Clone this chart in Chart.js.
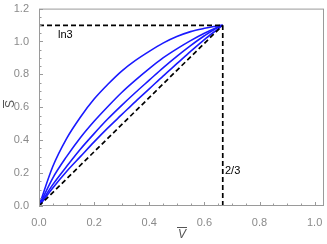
<!DOCTYPE html>
<html>
<head>
<meta charset="utf-8">
<script src="https://cdn.jsdelivr.net/npm/chart.js@4"></script>
<style>
  html, body { margin: 0; padding: 0; background: #fff; }
  #wrap { width: 327px; height: 244px; }
</style>
</head>
<body>
<div id="wrap"><canvas id="chart" width="327" height="244"></canvas></div>
<script>
// values
const vBar = [0, 0.05, 0.1, 0.15, 0.2, 0.25, 0.3, 0.35, 0.4, 0.45, 0.5, 0.55, 0.6, 0.65, 2 / 3];
const curveA = [0, 0.24, 0.41, 0.54, 0.65, 0.74, 0.82, 0.885, 0.94, 0.99, 1.03, 1.06, 1.08, 1.096, 1.0986];
const curveB = [0, 0.17, 0.30, 0.415, 0.515, 0.605, 0.69, 0.765, 0.835, 0.90, 0.955, 1.005, 1.05, 1.088, 1.0986];
const curveC = [0, 0.13, 0.24, 0.345, 0.44, 0.53, 0.612, 0.69, 0.765, 0.84, 0.91, 0.975, 1.035, 1.087, 1.0986];
const curveD = [0, 0.11, 0.21, 0.30, 0.39, 0.475, 0.555, 0.635, 0.712, 0.79, 0.865, 0.94, 1.012, 1.077, 1.0986];

const ln3 = 1.0986;
const vEnd = 2 / 3;
const xTicks = [0, 0.2, 0.4, 0.6, 0.8, 1.0];
const yTicks = [0, 0.2, 0.4, 0.6, 0.8, 1.0, 1.2];
const xMinor = [0.05, 0.1, 0.15, 0.25, 0.3, 0.35, 0.45, 0.5, 0.55, 0.65, 0.7, 0.75, 0.85, 0.9, 0.95];
const yMinor = [0.05, 0.1, 0.15, 0.25, 0.3, 0.35, 0.45, 0.5, 0.55, 0.65, 0.7, 0.75, 0.85, 0.9, 0.95, 1.05, 1.1, 1.15];

const toPts = ys => ys.map((y, i) => ({ x: vBar[i], y: y }));

const blue = (ys) => ({
  data: toPts(ys),
  borderColor: "#1a1aff",
  borderWidth: 1.6,
  pointRadius: 0,
  showLine: true,
  cubicInterpolationMode: "monotone"
});

const dashed = (pts) => ({
  data: pts,
  borderColor: "#000",
  borderWidth: 1.7,
  borderDash: [5, 3],
  pointRadius: 0,
  showLine: true
});

// frame, inner ticks, titles and labels
const framePlugin = {
  id: "frame",
  afterDraw(chart) {
    const { ctx, chartArea: a, scales: { x, y } } = chart;
    ctx.save();
    ctx.strokeStyle = "#9a9a9a";
    ctx.lineWidth = 1;
    ctx.strokeRect(a.left + 0.5, a.top + 0.5, a.right - a.left - 1, a.bottom - a.top - 1);

    ctx.beginPath();
    xTicks.forEach(v => {
      const px = Math.round(x.getPixelForValue(v)) + 0.5;
      ctx.moveTo(px, a.bottom); ctx.lineTo(px, a.bottom - 4);
    });
    xMinor.forEach(v => {
      const px = Math.round(x.getPixelForValue(v)) + 0.5;
      ctx.moveTo(px, a.bottom); ctx.lineTo(px, a.bottom - 2.5);
    });
    yTicks.forEach(v => {
      const py = Math.round(y.getPixelForValue(v)) + 0.5;
      ctx.moveTo(a.left, py); ctx.lineTo(a.left + 4, py);
    });
    yMinor.forEach(v => {
      const py = Math.round(y.getPixelForValue(v)) + 0.5;
      ctx.moveTo(a.left, py); ctx.lineTo(a.left + 2.5, py);
    });
    ctx.stroke();

    ctx.fillStyle = "#000";
    ctx.font = "11px 'Liberation Sans', Arial, sans-serif";
    ctx.textAlign = "left";
    ctx.textBaseline = "middle";
    ctx.fillText("ln3", 58, 35);
    ctx.fillText("2/3", 225, 171);

    // axis titles with overbars
    ctx.fillStyle = "#555";
    ctx.strokeStyle = "#555";
    ctx.font = "italic 12px 'Liberation Sans', Arial, sans-serif";
    ctx.textAlign = "center";
    ctx.fillText("V", 182, 235);
    ctx.beginPath();
    ctx.moveTo(177, 227.5); ctx.lineTo(187, 227.5);
    ctx.stroke();

    ctx.translate(11, 104);
    ctx.rotate(-Math.PI / 2);
    ctx.font = "12px 'Liberation Sans', Arial, sans-serif";
    ctx.fillText("S", 0, 0);
    ctx.beginPath();
    ctx.moveTo(-4, -7.5); ctx.lineTo(4, -7.5);
    ctx.stroke();
    ctx.restore();
  }
};

new Chart(document.getElementById("chart"), {
  type: "scatter",
  data: {
    datasets: [
      dashed([{ x: 0, y: ln3 }, { x: vEnd, y: ln3 }]),
      dashed([{ x: vEnd, y: 0 }, { x: vEnd, y: ln3 }]),
      dashed([{ x: 0, y: 0 }, { x: vEnd, y: ln3 }]),
      blue(curveA),
      blue(curveB),
      blue(curveC),
      blue(curveD)
    ]
  },
  options: {
    responsive: false,
    animation: false,
    layout: { padding: { top: 6, right: 3, left: 0, bottom: 0 } },
    plugins: { legend: { display: false }, tooltip: { enabled: false } },
    scales: {
      x: {
        type: "linear",
        min: 0,
        max: 1.034,
        afterBuildTicks: s => { s.ticks = xTicks.map(v => ({ value: v })); },
        afterFit: s => { s.height = 38; },
        grid: { display: false },
        border: { display: false },
        ticks: {
          color: "#8a8a8a",
          padding: 2,
          font: { size: 11, family: "'Liberation Sans', Arial, sans-serif" },
          callback: v => v.toFixed(1),
          maxRotation: 0
        }
      },
      y: {
        type: "linear",
        min: 0,
        max: 1.2,
        afterBuildTicks: s => { s.ticks = yTicks.map(v => ({ value: v })); },
        afterFit: s => { s.width = 39; },
        grid: { display: false },
        border: { display: false },
        ticks: {
          color: "#8a8a8a",
          padding: 2,
          font: { size: 11, family: "'Liberation Sans', Arial, sans-serif" },
          callback: v => v.toFixed(1)
        }
      }
    }
  },
  plugins: [framePlugin]
});
</script>
</body>
</html>
